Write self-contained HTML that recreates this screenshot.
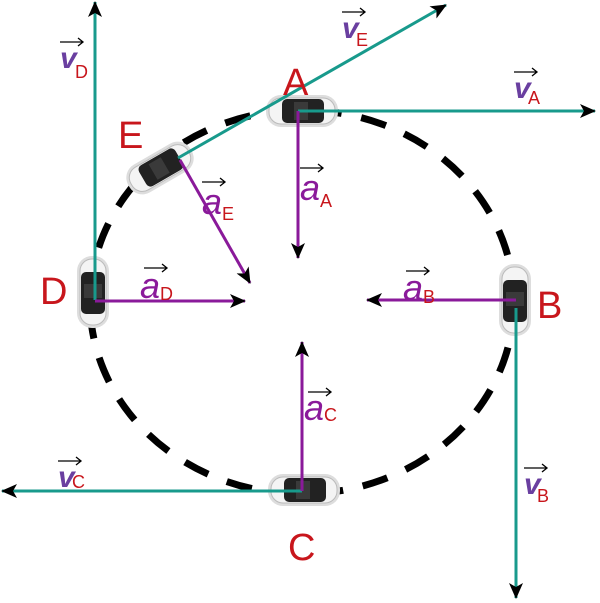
<!DOCTYPE html>
<html><head><meta charset="utf-8"><style>
html,body{margin:0;padding:0;background:#fff;}
svg{display:block;}
.L{font-family:"Liberation Sans",sans-serif;fill:#c8161c;}
.v{font-family:"Liberation Sans",sans-serif;font-style:italic;font-weight:bold;fill:#6a3fa0;}
.a{font-family:"Liberation Sans",sans-serif;font-style:italic;fill:#8a1a9a;}
.s{font-family:"Liberation Sans",sans-serif;fill:#c8161c;}
</style></head><body>
<svg width="600" height="603" viewBox="0 0 600 603" xmlns="http://www.w3.org/2000/svg">
<defs>
<marker id="ar2" markerWidth="16" markerHeight="14" refX="15" refY="7" orient="auto" markerUnits="userSpaceOnUse" viewBox="0 0 16 14">
<path d="M0,0 L16,7 L0,14 L4,7 z" fill="#000"/></marker>
<g id="car">
<rect x="-36" y="-16" width="72" height="32" rx="15" fill="#ddd"/>
<rect x="-33" y="-13" width="66" height="26" rx="12" fill="#f4f4f4" stroke="#bbb"/>
<rect x="-20" y="-12" width="42" height="24" rx="5" fill="#222"/>
<rect x="-8" y="-9" width="14" height="18" fill="#3a3a3a"/>
</g>
</defs>
<ellipse cx="302" cy="302" rx="212" ry="192" fill="none" stroke="#000" stroke-width="7" stroke-dasharray="26 20"/>
<use href="#car" transform="translate(302,111)"/>
<use href="#car" transform="translate(515,300) rotate(90)"/>
<use href="#car" transform="translate(304,490)"/>
<use href="#car" transform="translate(93,292) rotate(90)"/>
<use href="#car" transform="translate(160,168) rotate(-30)"/>
<g stroke="#189a8c" stroke-width="3" fill="none">
<line x1="298" y1="111" x2="595" y2="111" marker-end="url(#ar2)"/>
<line x1="516" y1="308" x2="516" y2="598" marker-end="url(#ar2)"/>
<line x1="302" y1="491" x2="2" y2="491" marker-end="url(#ar2)"/>
<line x1="95" y1="300" x2="95" y2="2" marker-end="url(#ar2)"/>
<line x1="178" y1="158" x2="446" y2="5" marker-end="url(#ar2)"/>
</g>
<g stroke="#8a1a9a" stroke-width="3" fill="none">
<line x1="298" y1="111" x2="298" y2="258" marker-end="url(#ar2)"/>
<line x1="516" y1="300" x2="367" y2="300" marker-end="url(#ar2)"/>
<line x1="302" y1="491" x2="302" y2="342" marker-end="url(#ar2)"/>
<line x1="95" y1="301" x2="245" y2="301" marker-end="url(#ar2)"/>
<line x1="180" y1="160" x2="250" y2="283" marker-end="url(#ar2)"/>
</g>
<text class="L" x="283" y="95" font-size="38">A</text>
<text class="L" x="118" y="148" font-size="38">E</text>
<text class="L" x="40" y="304" font-size="38">D</text>
<text class="L" x="537" y="318" font-size="38">B</text>
<text class="L" x="288" y="560" font-size="38">C</text>
<g stroke="#000" stroke-width="1.3" fill="none">
<path d="M60 42h22M78 38l5 4-5 4"/>
<path d="M342 12h22M360 8l5 4-5 4"/>
<path d="M514 72h22M532 68l5 4-5 4"/>
<path d="M524 468h22M542 464l5 4-5 4"/>
<path d="M58 461h22M76 457l5 4-5 4"/>
<path d="M300 168h22M318 164l5 4-5 4"/>
<path d="M202 182h22M220 178l5 4-5 4"/>
<path d="M144 268h22M162 264l5 4-5 4"/>
<path d="M406 271h22M424 267l5 4-5 4"/>
<path d="M308 392h22M326 388l5 4-5 4"/>
</g>
<text class="v" x="60" y="68" font-size="30">v</text><text class="s" x="75" y="78" font-size="18">D</text>
<text class="v" x="342" y="38" font-size="30">v</text><text class="s" x="356" y="46" font-size="18">E</text>
<text class="v" x="514" y="98" font-size="30">v</text><text class="s" x="528" y="104" font-size="18">A</text>
<text class="v" x="524" y="494" font-size="30">v</text><text class="s" x="537" y="502" font-size="18">B</text>
<text class="v" x="58" y="487" font-size="30">v</text><text class="s" x="72" y="488" font-size="18">C</text>
<text class="a" x="300" y="200" font-size="36">a</text><text class="s" x="320" y="207" font-size="18">A</text>
<text class="a" x="202" y="214" font-size="36">a</text><text class="s" x="222" y="220" font-size="18">E</text>
<text class="a" x="140" y="298" font-size="36">a</text><text class="s" x="160" y="300" font-size="18">D</text>
<text class="a" x="403" y="300" font-size="36">a</text><text class="s" x="423" y="303" font-size="18">B</text>
<text class="a" x="304" y="420" font-size="36">a</text><text class="s" x="324" y="421" font-size="18">C</text>
</svg>
</body></html>
